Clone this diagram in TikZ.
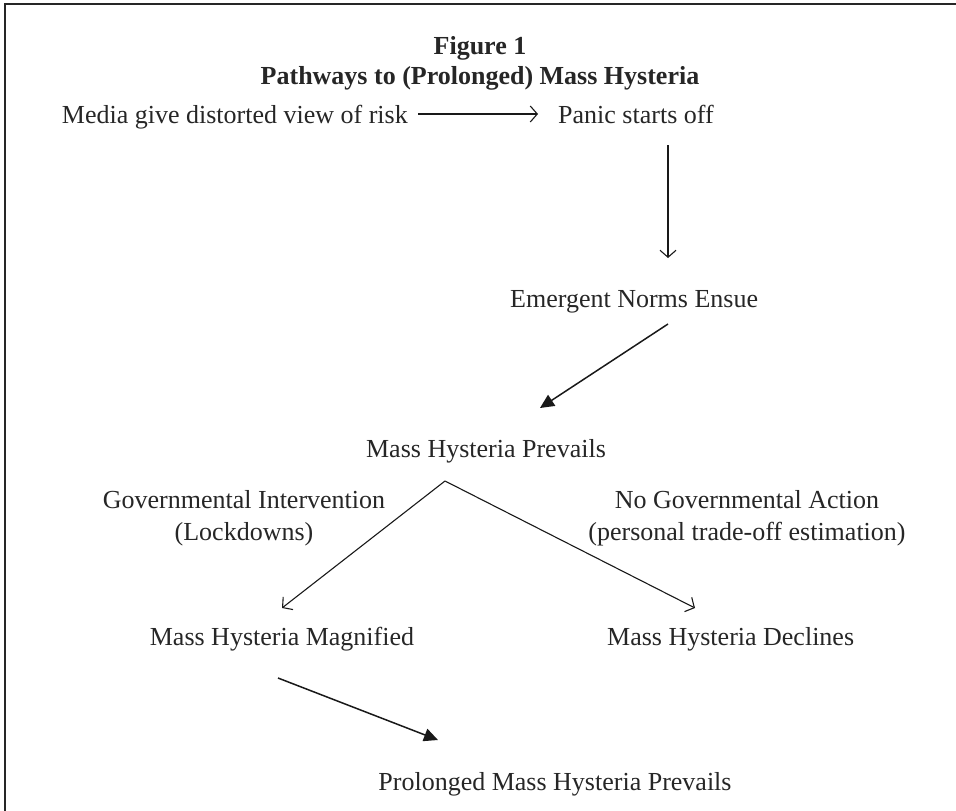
\documentclass[tikz,border=0pt]{standalone}
\usepackage{fontspec}
\setmainfont{Liberation Serif}
\usetikzlibrary{arrows.meta}
\begin{document}
\begin{tikzpicture}[x=1pt,y=-1pt,
  lbl/.style={inner sep=0pt,font=\fontsize{26}{30}\selectfont,text=black!85,anchor=base},
  ttl/.style={inner sep=0pt,font=\fontsize{26}{30}\selectfont\bfseries,text=black!85,anchor=base},
  openarr/.style={line width=1.1pt,black!90,-{Straight Barb[length=7pt,width=16pt,line width=1.1pt]}},
  fillarr/.style={line width=1.5pt,black!90,-{Triangle[length=14pt,width=13pt]}}]
\useasboundingbox (0,0) rectangle (956,811);
\draw[line width=2.6pt,black!85] (5,811) -- (5,4) -- (956,4);
\node[ttl] (t1) at (480,54) {Figure 1};
\node[ttl] (t2) at (480,84) {Pathways to (Prolonged) Mass Hysteria};
\node[lbl,anchor=base east] (media) at (408,123) {Media give distorted view of risk};
\node[lbl,anchor=base west] (panic) at (558,123) {Panic starts off};
\node[lbl,anchor=base west] (emerg) at (510,307) {Emergent Norms Ensue};
\node[lbl] (prev) at (486,457) {Mass Hysteria Prevails};
\node[lbl] (gov1) at (244,508) {Governmental Intervention};
\node[lbl] (gov2) at (244,540) {(Lockdowns)};
\node[lbl] (no1) at (747,508) {No Governmental Action};
\node[lbl] (no2) at (747,540) {(personal trade-off estimation)};
\node[lbl] (mag) at (282,645) {Mass Hysteria Magnified};
\node[lbl,anchor=base west] (dec) at (607,645) {Mass Hysteria Declines};
\node[lbl] (prol) at (555,790) {Prolonged Mass Hysteria Prevails};
\coordinate (a1s) at (418,114);
\coordinate (a1e) at (538,114);
\coordinate (a2s) at (668,145);
\coordinate (a2e) at (668,258);
\coordinate (a3s) at (668,324);
\coordinate (a3e) at (540,408);
\coordinate (apex) at (445,481);
\coordinate (a4e) at (282,608);
\coordinate (a5e) at (695,608);
\coordinate (a6s) at (278,678);
\coordinate (a6e) at (438,740);
\draw[openarr] (a1s) -- (a1e);
\draw[openarr] (a2s) -- (a2e);
\draw[fillarr] (a3s) -- (a3e);
\draw[openarr] (apex) -- (a4e);
\draw[openarr] (apex) -- (a5e);
\draw[fillarr] (a6s) -- (a6e);
\end{tikzpicture}
\end{document}
